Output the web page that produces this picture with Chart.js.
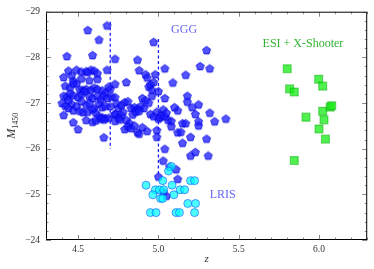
<!DOCTYPE html>
<html>
<head>
<meta charset="utf-8">
<script src="https://cdn.jsdelivr.net/npm/chart.js@4/dist/chart.umd.min.js"></script>
<style>
  html, body { margin: 0; padding: 0; background: #fff; }
  #wrap { width: 374px; height: 269px; }
</style>
</head>
<body>
<div id="wrap"><canvas id="chart"></canvas></div>
<script>
// GGG sample (redshift, absolute magnitude)
const gggZ = [
  4.56, 4.68, 4.63, 4.43, 4.59, 4.73, 4.97, 4.87, 5.30, 5.26, 5.32, 5.04, 5.17, 5.09, 4.88, 4.92, 4.93, 4.98, 4.80, 4.73, 4.68,
  4.44, 4.49, 4.52, 4.55, 4.58, 4.60, 4.56, 4.62,
  4.41, 4.47, 4.52, 4.57, 4.62, 4.46, 4.49,
  4.42, 4.45, 4.47, 4.51, 4.53, 4.55, 4.58, 4.60, 4.62, 4.65, 4.67, 4.70, 4.69,
  4.41, 4.43, 4.45, 4.47, 4.50, 4.52, 4.54, 4.57, 4.59, 4.62, 4.64, 4.66, 4.68, 4.71, 4.73,
  4.40, 4.42, 4.44, 4.46, 4.49, 4.52, 4.55, 4.57, 4.60, 4.63, 4.65, 4.67, 4.70,
  4.41, 4.44, 4.47, 4.51, 4.53, 4.56, 4.59, 4.61, 4.63, 4.65, 4.67, 4.69, 4.73,
  4.47, 4.50, 4.55, 4.59, 4.61, 4.64, 4.66, 4.66,
  4.74, 4.75, 4.77, 4.79, 4.81, 4.83, 4.85, 4.87, 4.89, 4.91,
  4.73, 4.75, 4.77, 4.78, 4.80, 4.82, 4.84, 4.86, 4.88,
  4.73, 4.76, 4.79, 4.81, 4.83, 4.85, 4.87, 4.88, 4.90, 4.93,
  4.90, 4.92, 4.94, 4.95, 4.96, 4.97, 4.96, 4.94,
  4.95, 4.97, 4.99, 5.00, 5.01, 5.02, 5.03, 5.04, 5.05, 5.06, 5.00, 5.04,
  4.99, 4.99, 5.08, 5.08, 5.12, 5.10, 5.12,
  5.18, 5.18, 5.21, 5.25, 5.23, 5.15, 5.14, 5.15, 5.20, 5.25, 5.25, 5.30, 5.32, 5.35, 5.42, 5.20, 5.23, 5.31, 5.17,
  5.04, 5.03, 5.07, 5.11, 5.00, 5.12, 5.05, 5.03
];
const gggM = [
  -28.59, -28.69, -28.38, -28.02, -28.04, -27.96, -28.33, -27.94, -28.15, -27.80, -27.75, -27.75, -27.61, -27.44, -27.71, -27.62, -27.55, -27.62, -27.45, -27.41, -27.72,
  -27.70, -27.72, -27.68, -27.69, -27.72, -27.70, -27.67, -27.64,
  -27.56, -27.48, -27.53, -27.49, -27.52, -27.60, -27.42,
  -27.37, -27.33, -27.42, -27.29, -27.28, -27.30, -27.28, -27.33, -27.30, -27.27, -27.22, -27.30, -27.35,
  -27.15, -27.13, -27.20, -27.16, -27.12, -27.18, -27.25, -27.14, -27.10, -27.15, -27.07, -27.15, -27.10, -27.13, -27.12,
  -26.99, -26.93, -27.05, -26.97, -26.92, -27.03, -26.95, -26.99, -26.88, -26.98, -26.90, -26.93, -26.92,
  -26.73, -26.88, -26.83, -26.82, -26.79, -26.80, -26.85, -26.78, -26.70, -26.68, -26.66, -26.67, -26.75,
  -26.57, -26.42, -26.62, -26.58, -26.61, -26.65, -26.63, -26.24,
  -26.98, -26.88, -26.95, -27.01, -27.03, -26.88, -26.90, -26.87, -26.93, -26.88,
  -26.75, -26.67, -26.72, -26.80, -26.62, -26.55, -26.74, -26.80, -26.82,
  -26.60, -26.63, -26.42, -26.48, -26.44, -26.50, -26.35, -26.32, -26.46, -26.38,
  -27.10, -27.05, -27.35, -27.40, -27.28, -27.45, -27.15, -27.00,
  -26.75, -26.70, -26.80, -26.65, -26.68, -26.73, -26.85, -26.70, -26.78, -26.62, -27.25, -27.10,
  -26.40, -26.25, -26.60, -26.48, -26.83, -26.90, -26.35,
  -27.15, -27.02, -26.90, -26.96, -26.75, -26.55, -26.36, -26.12, -26.25, -26.59, -26.50, -26.21, -26.78, -26.59, -26.65, -25.84, -25.92, -25.84, -26.55,
  -25.99, -25.73, -25.60, -25.54, -25.38, -25.33, -24.96, -25.05
];

// LRIS sample
const lrisZ = [5.081, 5.063, 4.923, 5.027, 5.085, 5.200, 5.225, 4.981, 5.006, 5.033, 5.135, 5.163, 4.965, 5.096, 5.013, 5.027, 5.183, 5.231, 4.950, 4.985, 5.110, 5.131, 5.225];
const lrisM = [-25.61, -25.51, -25.20, -25.30, -25.20, -25.30, -25.30, -25.10, -25.10, -25.10, -25.10, -25.10, -24.99, -24.99, -24.91, -24.91, -24.80, -24.80, -24.60, -24.60, -24.60, -24.60, -24.60];

// ESI + X-Shooter sample
const esiZ = [5.802, 5.817, 5.846, 5.998, 6.023, 5.919, 6.023, 6.031, 6.069, 6.079, 6.000, 6.040, 5.846];
const esiM = [-27.75, -27.31, -27.24, -27.52, -27.37, -26.69, -26.82, -26.63, -26.91, -26.94, -26.43, -26.21, -25.74];

// dashed completeness cuts
const cutZ = [4.7, 5.0];
const cutTop = [-28.78, -28.40];
const cutBottom = [-26.00, -25.43];

const xTicks = [4.5, 5.0, 5.5, 6.0];
const yTicks = [-29, -28, -27, -26, -25, -24];

const toPts = (xs, ys) => xs.map((x, i) => ({ x: x, y: ys[i] }));

// pentagon marker
function makePentagon(r, fill, stroke) {
  const size = Math.ceil(r * 2 + 2);
  const c = document.createElement('canvas');
  c.width = size; c.height = size;
  const ctx = c.getContext('2d');
  ctx.beginPath();
  for (let i = 0; i < 5; i++) {
    const a = -Math.PI / 2 + i * 2 * Math.PI / 5;
    const px = size / 2 + r * Math.cos(a);
    const py = size / 2 + r * Math.sin(a);
    if (i === 0) ctx.moveTo(px, py); else ctx.lineTo(px, py);
  }
  ctx.closePath();
  ctx.fillStyle = fill;
  ctx.fill();
  ctx.lineWidth = 0.8;
  ctx.strokeStyle = stroke;
  ctx.stroke();
  return c;
}
const pent = makePentagon(4.2, 'rgba(25,25,255,0.75)', 'rgba(0,0,220,0.9)');

const serif = '"Liberation Serif", "DejaVu Serif", serif';

// frame, inward ticks, labels drawn in data space
const decor = {
  id: 'decor',
  afterDraw(chart) {
    const { ctx, chartArea: a, scales: { x, y } } = chart;
    ctx.save();
    ctx.strokeStyle = '#000';
    ctx.lineWidth = 1;
    ctx.strokeRect(a.left + 0.5, a.top + 0.5, a.right - a.left - 1, a.bottom - a.top - 1);
    ctx.lineWidth = 0.6;
    ctx.strokeStyle = '#333';
    ctx.beginPath();
    for (let v = 4.3; v <= 6.31; v += 0.1) {
      const px = Math.round(x.getPixelForValue(v)) + 0.5;
      const major = xTicks.some(t => Math.abs(t - v) < 1e-6);
      const len = major ? 5 : 2.5;
      ctx.moveTo(px, a.bottom); ctx.lineTo(px, a.bottom - len);
      ctx.moveTo(px, a.top); ctx.lineTo(px, a.top + len);
    }
    for (let v = -29; v <= -23.99; v += 0.2) {
      const py = Math.round(y.getPixelForValue(v)) + 0.5;
      const major = yTicks.some(t => Math.abs(t - v) < 1e-6);
      const len = major ? 5 : 2.5;
      ctx.moveTo(a.left, py); ctx.lineTo(a.left + len, py);
      ctx.moveTo(a.right, py); ctx.lineTo(a.right - len, py);
    }
    ctx.stroke();

    // sample labels
    ctx.font = '12px ' + serif;
    ctx.textAlign = 'center';
    ctx.textBaseline = 'middle';
    ctx.fillStyle = 'rgba(60,60,240,0.8)';
    ctx.fillText('GGG', x.getPixelForValue(5.16), y.getPixelForValue(-28.6));
    ctx.fillText('LRIS', x.getPixelForValue(5.4), y.getPixelForValue(-24.99));
    ctx.fillStyle = 'rgba(30,170,30,0.9)';
    ctx.fillText('ESI + X-Shooter', x.getPixelForValue(5.9), y.getPixelForValue(-28.3));

    // axis titles
    ctx.fillStyle = '#333';
    ctx.font = 'italic 11px ' + serif;
    ctx.fillText('z', (a.left + a.right) / 2, 259);
    ctx.translate(12, (a.top + a.bottom) / 2);
    ctx.rotate(-Math.PI / 2);
    ctx.textAlign = 'left';
    ctx.font = 'italic 12px ' + serif;
    const wM = ctx.measureText('M').width;
    ctx.font = '8px ' + serif;
    const wS = ctx.measureText('1450').width;
    const x0 = -(wM + wS) / 2;
    ctx.font = 'italic 12px ' + serif;
    ctx.fillText('M', x0, 0);
    ctx.font = '8px ' + serif;
    ctx.fillText('1450', x0 + wM, 4);
    ctx.restore();
  }
};

const cutSets = cutZ.map((z, i) => ({
  type: 'line',
  data: [{ x: z, y: cutTop[i] }, { x: z, y: cutBottom[i] }],
  borderColor: '#1a1aff',
  borderWidth: 1.3,
  borderDash: [3, 2.5],
  pointRadius: 0,
  fill: false,
  order: 2
}));

new Chart(document.getElementById('chart'), {
  type: 'scatter',
  data: {
    datasets: [
      {
        label: 'GGG',
        data: toPts(gggZ, gggM),
        pointStyle: pent,
        pointRadius: 4,
        order: 3
      },
      ...cutSets,
      {
        label: 'LRIS',
        data: toPts(lrisZ, lrisM),
        pointStyle: 'circle',
        pointRadius: 4,
        backgroundColor: 'rgba(0,255,255,0.7)',
        borderColor: 'rgba(20,90,255,0.8)',
        borderWidth: 0.8,
        order: 1
      },
      {
        label: 'ESI + X-Shooter',
        data: toPts(esiZ, esiM),
        pointStyle: 'rect',
        pointRadius: 5.6,
        backgroundColor: 'rgba(20,235,20,0.75)',
        borderColor: 'rgba(0,170,0,0.45)',
        borderWidth: 1.2,
        order: 0
      }
    ]
  },
  options: {
    responsive: true,
    maintainAspectRatio: false,
    animation: false,
    layout: { padding: { left: 0, right: 6, top: 11, bottom: 0 } },
    plugins: { legend: { display: false }, tooltip: { enabled: false } },
    scales: {
      x: {
        type: 'linear',
        min: 4.3,
        max: 6.3,
        grid: { display: false, drawTicks: false },
        border: { display: false },
        afterBuildTicks: s => { s.ticks = xTicks.map(v => ({ value: v })); },
        afterFit: s => { s.height = 29; },
        ticks: {
          padding: 4,
          color: '#333',
          font: { family: serif, size: 9.5 },
          callback: v => v.toFixed(1)
        }
      },
      y: {
        type: 'linear',
        min: -29,
        max: -24,
        reverse: true,
        grid: { display: false, drawTicks: false },
        border: { display: false },
        afterBuildTicks: s => { s.ticks = yTicks.map(v => ({ value: v })); },
        afterFit: s => { s.width = 46; },
        ticks: {
          padding: 6,
          color: '#333',
          font: { family: serif, size: 9.5 },
          callback: v => '\u2212' + Math.abs(v)
        }
      }
    }
  },
  plugins: [decor]
});
</script>
</body>
</html>
